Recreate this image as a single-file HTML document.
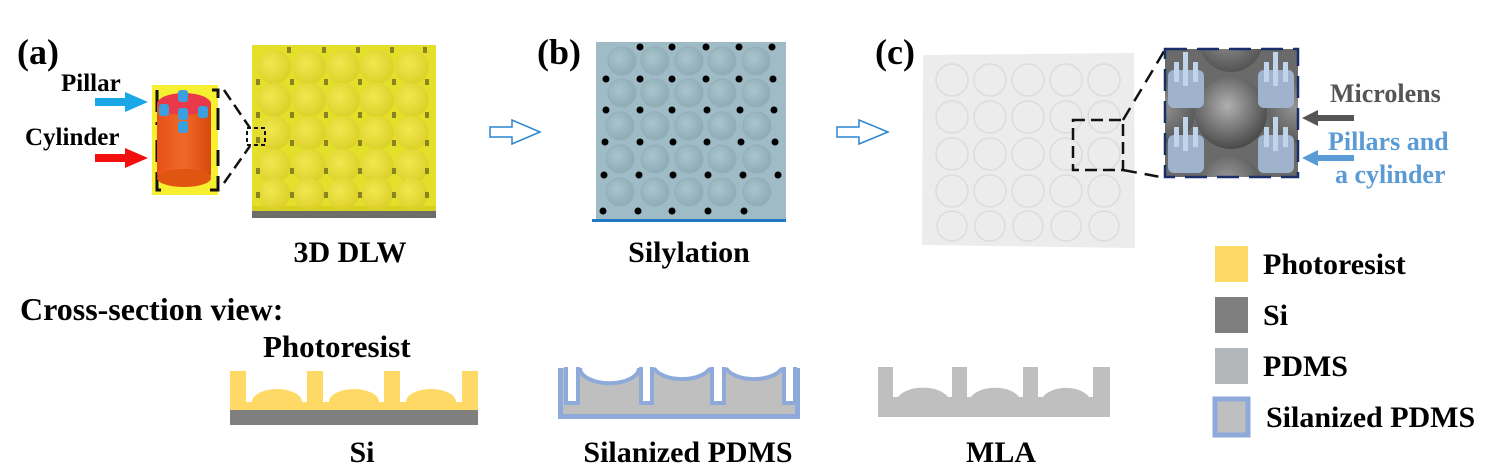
<!DOCTYPE html>
<html><head><meta charset="utf-8"><style>
html,body{margin:0;padding:0;background:#fff;}
svg{display:block;font-family:"Liberation Serif",serif;font-weight:bold;}
</style></head><body>
<svg width="1486" height="472" viewBox="0 0 1486 472" xmlns="http://www.w3.org/2000/svg">
<defs>
<radialGradient id="ly" cx="0.4" cy="0.4" r="0.6"><stop offset="0" stop-color="#f4ea5a"/><stop offset="1" stop-color="#dccf2a"/></radialGradient>
<radialGradient id="lb" cx="0.4" cy="0.4" r="0.6"><stop offset="0" stop-color="#a9c4cc"/><stop offset="1" stop-color="#8fadb7"/></radialGradient>
<radialGradient id="lg" cx="0.45" cy="0.4" r="0.6"><stop offset="0" stop-color="#b0b0b0"/><stop offset="1" stop-color="#4a4a4a"/></radialGradient>
<linearGradient id="cyl" x1="0" x2="1"><stop offset="0" stop-color="#e8501a"/><stop offset="0.5" stop-color="#f06a2a"/><stop offset="1" stop-color="#d8480e"/></linearGradient>
<clipPath id="ic"><rect x="1165" y="49" width="133" height="128"/></clipPath>
</defs>

<!-- (a) -->
<text x="17" y="64" font-size="36">(a)</text>
<text x="61" y="91" font-size="25">Pillar</text>
<text x="25" y="145" font-size="25">Cylinder</text>
<polygon points="95,98 125,98 125,92 148,102 125,112 125,106 95,106" fill="#1aa7e8"/>
<polygon points="95,154 125,154 125,148 148,158 125,168 125,162 95,162" fill="#f01010"/>
<rect x="152" y="85" width="66" height="110" fill="#f6f030"/>
<path d="M157,90 V125 M157,140 V190 H170 M210,190 H218 V150 M218,130 V90 H212" stroke="#111" stroke-width="3" fill="none" stroke-dasharray="22,10"/>
<rect x="157" y="100" width="54" height="78" rx="4" fill="url(#cyl)"/>
<ellipse cx="184" cy="178" rx="27" ry="9" fill="#e0550f"/>
<ellipse cx="184" cy="104" rx="27" ry="11" fill="#e83a4a"/>
<g fill="#3aa0e0"><rect x="178" y="90" width="10" height="12" rx="3"/><rect x="159" y="104" width="10" height="12" rx="3"/><rect x="178" y="108" width="10" height="12" rx="3"/><rect x="198" y="106" width="10" height="12" rx="3"/><rect x="178" y="121" width="10" height="12" rx="3"/></g>
<path d="M224,90 L250,128 M224,183 L250,146" stroke="#111" stroke-width="2.5" stroke-dasharray="12,6"/>
<rect x="252" y="45" width="184" height="164" fill="#e4e02a"/>
<rect x="252" y="206" width="184" height="5" fill="#d8d020"/>
<rect x="252" y="211" width="184" height="7" fill="#6e6e68"/>
<g fill="url(#ly)" opacity="0.8">
<circle cx="274" cy="67" r="17"/><circle cx="309" cy="67" r="17"/><circle cx="343" cy="67" r="17"/><circle cx="377" cy="67" r="17"/><circle cx="412" cy="67" r="17"/>
<circle cx="274" cy="100" r="17"/><circle cx="309" cy="100" r="17"/><circle cx="343" cy="100" r="17"/><circle cx="377" cy="100" r="17"/><circle cx="412" cy="100" r="17"/>
<circle cx="274" cy="133" r="17"/><circle cx="309" cy="133" r="17"/><circle cx="343" cy="133" r="17"/><circle cx="377" cy="133" r="17"/><circle cx="412" cy="133" r="17"/>
<circle cx="274" cy="166" r="17"/><circle cx="309" cy="166" r="17"/><circle cx="343" cy="166" r="17"/><circle cx="377" cy="166" r="17"/><circle cx="412" cy="166" r="17"/>
<circle cx="274" cy="194" r="16"/><circle cx="309" cy="194" r="16"/><circle cx="343" cy="194" r="16"/><circle cx="377" cy="194" r="16"/><circle cx="412" cy="194" r="16"/>
</g>
<g fill="#8a8420">
<rect x="287" y="47" width="4" height="6"/><rect x="322" y="47" width="4" height="6"/><rect x="356" y="47" width="4" height="6"/><rect x="390" y="47" width="4" height="6"/><rect x="423" y="47" width="4" height="6"/>
<rect x="256" y="79" width="4" height="6"/><rect x="290" y="79" width="4" height="6"/><rect x="324" y="79" width="4" height="6"/><rect x="358" y="79" width="4" height="6"/><rect x="392" y="79" width="4" height="6"/><rect x="425" y="79" width="4" height="6"/>
<rect x="256" y="112" width="4" height="6"/><rect x="290" y="112" width="4" height="6"/><rect x="324" y="112" width="4" height="6"/><rect x="358" y="112" width="4" height="6"/><rect x="392" y="112" width="4" height="6"/><rect x="425" y="112" width="4" height="6"/>
<rect x="256" y="137" width="4" height="6"/><rect x="290" y="140" width="4" height="6"/><rect x="324" y="140" width="4" height="6"/><rect x="358" y="140" width="4" height="6"/><rect x="392" y="140" width="4" height="6"/><rect x="425" y="140" width="4" height="6"/>
<rect x="256" y="168" width="4" height="6"/><rect x="290" y="168" width="4" height="6"/><rect x="324" y="168" width="4" height="6"/><rect x="358" y="168" width="4" height="6"/><rect x="392" y="168" width="4" height="6"/><rect x="425" y="168" width="4" height="6"/>
<rect x="256" y="192" width="4" height="6"/><rect x="290" y="192" width="4" height="6"/><rect x="324" y="192" width="4" height="6"/><rect x="358" y="192" width="4" height="6"/><rect x="392" y="192" width="4" height="6"/><rect x="425" y="192" width="4" height="6"/>
</g>
<rect x="247" y="128" width="18" height="17" fill="none" stroke="#111" stroke-width="2" stroke-dasharray="4,3"/>
<text x="350" y="262" font-size="30" text-anchor="middle">3D DLW</text>

<!-- arrows -->
<polygon points="490,127 512,127 512,120 540,132 512,144 512,137 490,137" fill="#fff" stroke="#2a86d0" stroke-width="1.5"/>
<polygon points="837,127 859,127 859,120 888,132 859,144 859,137 837,137" fill="#fff" stroke="#2a86d0" stroke-width="1.5"/>

<!-- (b) -->
<text x="537" y="64" font-size="36">(b)</text>
<rect x="596" y="42" width="190" height="178" fill="#9fbcc6"/>
<rect x="592" y="219" width="194" height="3" fill="#1f78c0"/>
<g fill="url(#lb)" stroke="#93aeb8" stroke-width="1">
<circle cx="622" cy="61" r="14"/><circle cx="655" cy="61" r="14"/><circle cx="689" cy="61" r="14"/><circle cx="722" cy="61" r="14"/><circle cx="756" cy="61" r="14"/>
<circle cx="622" cy="93" r="14"/><circle cx="655" cy="93" r="14"/><circle cx="689" cy="93" r="14"/><circle cx="722" cy="93" r="14"/><circle cx="756" cy="93" r="14"/>
<circle cx="620" cy="126" r="14"/><circle cx="655" cy="126" r="14"/><circle cx="689" cy="126" r="14"/><circle cx="722" cy="126" r="14"/><circle cx="757" cy="126" r="14"/>
<circle cx="620" cy="159" r="14"/><circle cx="655" cy="159" r="14"/><circle cx="689" cy="159" r="14"/><circle cx="722" cy="159" r="14"/><circle cx="757" cy="159" r="14"/>
<circle cx="620" cy="192" r="14"/><circle cx="655" cy="192" r="14"/><circle cx="689" cy="192" r="14"/><circle cx="722" cy="192" r="14"/><circle cx="757" cy="192" r="14"/>
</g>
<g fill="#000">
<circle cx="640" cy="47" r="3.5"/><circle cx="672" cy="47" r="3.5"/><circle cx="706" cy="47" r="3.5"/><circle cx="739" cy="47" r="3.5"/><circle cx="772" cy="47" r="3.5"/>
<circle cx="606" cy="79" r="3.5"/><circle cx="640" cy="79" r="3.5"/><circle cx="672" cy="79" r="3.5"/><circle cx="706" cy="79" r="3.5"/><circle cx="739" cy="79" r="3.5"/><circle cx="773" cy="79" r="3.5"/>
<circle cx="606" cy="110" r="3.5"/><circle cx="640" cy="110" r="3.5"/><circle cx="672" cy="110" r="3.5"/><circle cx="707" cy="110" r="3.5"/><circle cx="740" cy="110" r="3.5"/><circle cx="774" cy="110" r="3.5"/>
<circle cx="605" cy="142" r="3.5"/><circle cx="640" cy="142" r="3.5"/><circle cx="673" cy="142" r="3.5"/><circle cx="707" cy="142" r="3.5"/><circle cx="741" cy="142" r="3.5"/><circle cx="775" cy="142" r="3.5"/>
<circle cx="604" cy="175" r="3.5"/><circle cx="639" cy="175" r="3.5"/><circle cx="673" cy="175" r="3.5"/><circle cx="708" cy="175" r="3.5"/><circle cx="743" cy="175" r="3.5"/><circle cx="778" cy="175" r="3.5"/>
<circle cx="603" cy="211" r="3.5"/><circle cx="638" cy="211" r="3.5"/><circle cx="672" cy="211" r="3.5"/><circle cx="708" cy="211" r="3.5"/><circle cx="744" cy="211" r="3.5"/>
</g>
<text x="689" y="262" font-size="30" text-anchor="middle">Silylation</text>

<!-- (c) -->
<text x="875" y="64" font-size="36">(c)</text>
<polygon points="923,55 1134,53 1135,248 922,245" fill="#ececec"/>
<g fill="none" stroke="#dcdcdc" stroke-width="1.5">
<circle cx="952" cy="80" r="16"/><circle cx="990" cy="80" r="16"/><circle cx="1028" cy="80" r="16"/><circle cx="1066" cy="80" r="16"/><circle cx="1104" cy="80" r="16"/>
<circle cx="952" cy="117" r="16"/><circle cx="990" cy="117" r="16"/><circle cx="1028" cy="117" r="16"/><circle cx="1066" cy="117" r="16"/><circle cx="1104" cy="117" r="16"/>
<circle cx="952" cy="154" r="16"/><circle cx="990" cy="154" r="16"/><circle cx="1028" cy="154" r="16"/><circle cx="1066" cy="154" r="16"/><circle cx="1104" cy="154" r="16"/>
<circle cx="952" cy="191" r="16"/><circle cx="990" cy="191" r="16"/><circle cx="1028" cy="191" r="16"/><circle cx="1066" cy="191" r="16"/><circle cx="1104" cy="191" r="16"/>
<circle cx="952" cy="226" r="15"/><circle cx="990" cy="226" r="15"/><circle cx="1028" cy="226" r="15"/><circle cx="1066" cy="226" r="15"/><circle cx="1104" cy="226" r="15"/>
</g>
<rect x="1073" y="120" width="50" height="50" fill="none" stroke="#111" stroke-width="2.5" stroke-dasharray="12,6"/>
<path d="M1123,120 L1166,48 M1123,170 L1166,178" stroke="#111" stroke-width="2.5" stroke-dasharray="14,8"/>
<g clip-path="url(#ic)">
<rect x="1165" y="49" width="133" height="128" fill="#6a6a6a"/>
<circle cx="1231" cy="113" r="36" fill="url(#lg)"/>
<circle cx="1231" cy="40" r="32" fill="url(#lg)" opacity="0.7"/>
<circle cx="1231" cy="188" r="32" fill="url(#lg)" opacity="0.7"/>
<circle cx="1165" cy="113" r="30" fill="url(#lg)" opacity="0.6"/>
<circle cx="1298" cy="113" r="30" fill="url(#lg)" opacity="0.6"/>
<g fill="#9fb3cc">
<rect x="1168" y="70" width="36" height="38" rx="6"/><rect x="1258" y="70" width="36" height="38" rx="6"/>
<rect x="1168" y="135" width="36" height="38" rx="6"/><rect x="1258" y="135" width="36" height="38" rx="6"/>
</g>
<g fill="#c0d4ec">
<rect x="1183" y="52" width="5" height="22"/><rect x="1174" y="62" width="5" height="20"/><rect x="1193" y="62" width="5" height="20"/><rect x="1183" y="68" width="5" height="18"/>
<rect x="1273" y="52" width="5" height="22"/><rect x="1264" y="62" width="5" height="20"/><rect x="1283" y="62" width="5" height="20"/><rect x="1273" y="68" width="5" height="18"/>
<rect x="1183" y="117" width="5" height="22"/><rect x="1174" y="127" width="5" height="20"/><rect x="1193" y="127" width="5" height="20"/><rect x="1183" y="133" width="5" height="18"/>
<rect x="1273" y="117" width="5" height="22"/><rect x="1264" y="127" width="5" height="20"/><rect x="1283" y="127" width="5" height="20"/><rect x="1273" y="133" width="5" height="18"/>
</g>
</g>
<path d="M1165,49 H1298 V177 H1165 Z" fill="none" stroke="#1a2f6a" stroke-width="2.5" stroke-dasharray="22,10"/>
<text x="1330" y="102" font-size="26" fill="#555">Microlens</text>
<polygon points="1354,115 1318,115 1318,110 1302,118 1318,126 1318,121 1354,121" fill="#555"/>
<text x="1328" y="150" font-size="26" fill="#5b9bd5">Pillars and</text>
<text x="1335" y="183" font-size="26" fill="#5b9bd5">a cylinder</text>
<polygon points="1354,155 1318,155 1318,150 1302,158 1318,166 1318,161 1354,161" fill="#5b9bd5"/>

<!-- legend -->
<rect x="1215" y="246" width="33" height="36" fill="#ffd966"/>
<text x="1263" y="274" font-size="30">Photoresist</text>
<rect x="1215" y="297" width="33" height="36" fill="#7f7f7f"/>
<text x="1263" y="325" font-size="30">Si</text>
<rect x="1215" y="348" width="33" height="36" fill="#b4b7ba"/>
<text x="1263" y="376" font-size="30">PDMS</text>
<rect x="1215" y="399" width="33" height="36" fill="#bfbfbf" stroke="#8eaadb" stroke-width="5"/>
<text x="1266" y="427" font-size="30">Silanized PDMS</text>

<!-- cross-section -->
<text x="20" y="320" font-size="32">Cross-section view:</text>
<text x="263" y="357" font-size="31">Photoresist</text>
<path d="M230,371 H246 V402 H252 A25,13 0 0 1 302,402 H307 V371 H323 V402 H329 A25,13 0 0 1 379,402 H384 V371 H400 V402 H406 A25,13 0 0 1 456,402 H462 V371 H478 V410 H230 Z" fill="#ffd966"/>
<rect x="230" y="410" width="248" height="15" fill="#7f7f7f"/>

<!-- silanized PDMS -->
<rect x="560.5" y="366" width="237" height="50.5" fill="#bfbfbf" stroke="#8eaadb" stroke-width="5"/>
<rect x="556" y="360" width="246" height="8" fill="#fff"/>
<g fill="#fff" stroke="#8eaadb" stroke-width="4">
<path d="M566,366 V403 H578 V366"/>
<path d="M641,366 V403 H652 V366"/>
<path d="M712,366 V403 H724 V366"/>
<path d="M784,366 V403 H795 V366"/>
<path d="M580,368 A29,15 0 0 0 639,368"/>
<path d="M654,368 A29,15 0 0 0 710,368"/>
<path d="M726,368 A29,15 0 0 0 782,368"/>
</g>
<rect x="564" y="360" width="240" height="7" fill="#fff"/>

<!-- MLA -->
<path d="M878,367 H893 V397 H898 A27,15 0 0 1 948,397 H952 V367 H967 V397 H971 A26,15 0 0 1 1019,397 H1023 V367 H1038 V397 H1043 A25,15 0 0 1 1089,397 H1093 V367 H1110 V417 H878 Z" fill="#bfbfbf"/>

<text x="362" y="462" font-size="30" text-anchor="middle">Si</text>
<text x="688" y="462" font-size="30" text-anchor="middle">Silanized PDMS</text>
<text x="1001" y="462" font-size="30" text-anchor="middle">MLA</text>
</svg>
</body></html>
